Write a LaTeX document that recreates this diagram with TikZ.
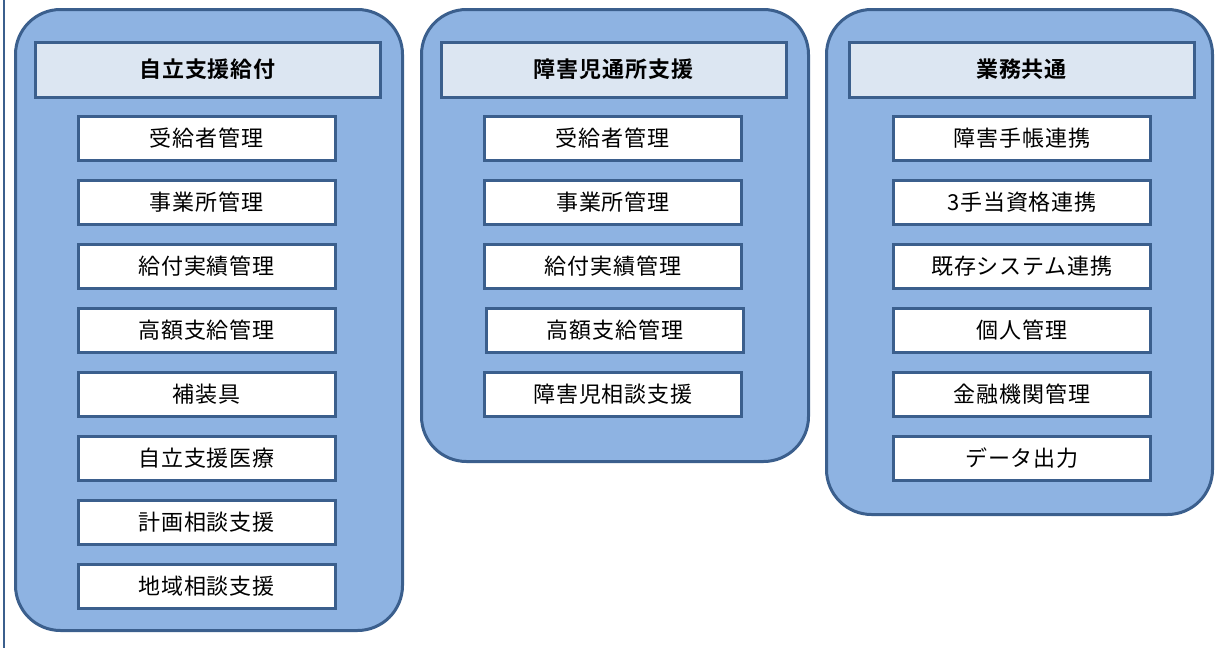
\documentclass[tikz,border=0pt]{standalone}
\usepackage{fontspec}
\newfontfamily\cjk{Noto Sans CJK JP}[BoldFont=Noto Sans CJK JP Bold, LetterSpace=4]
\definecolor{edge}{HTML}{3B5F8D}
\definecolor{panelfill}{HTML}{8EB3E2}
\definecolor{headfill}{HTML}{DCE6F2}
\tikzset{
  panel/.style={draw=edge, fill=panelfill, line width=3pt, rounded corners=45pt, anchor=north west, inner sep=0pt},
  headbox/.style={draw=edge, fill=headfill, line width=3pt, minimum width=345pt, minimum height=55pt, inner sep=0pt, font=\cjk\bfseries\fontsize{22}{25}\selectfont},
  itembox/.style={draw=edge, fill=white, line width=3pt, minimum width=257pt, minimum height=44pt, inner sep=0pt, font=\cjk\fontsize{22}{25}\selectfont},
}
\begin{document}
\begin{tikzpicture}[x=1pt,y=-1pt]
\useasboundingbox (0,0) rectangle (1219,648);
\coordinate (lt) at (4,0);
\coordinate (lb) at (4,648);
\draw[edge, line width=2pt] (lt) -- (lb);
% panels
\node[panel, minimum width=387pt, minimum height=621pt] (p1) at (14,8) {};
\node[panel, minimum width=387pt, minimum height=452pt] (p2) at (420,8) {};
\node[panel, minimum width=386pt, minimum height=505pt] (p3) at (825,8) {};
% headers
\node[headbox] (h1) at (207.5,69.5) {自立支援給付};
\node[headbox] (h2) at (613.5,69.5) {障害児通所支援};
\node[headbox] (h3) at (1021.5,69.5) {業務共通};
% panel 1 items
\node[itembox] (a1) at (206.5,138) {受給者管理};
\node[itembox] (a2) at (206.5,202) {事業所管理};
\node[itembox] (a3) at (206.5,266) {給付実績管理};
\node[itembox] (a4) at (206.5,330) {高額支給管理};
\node[itembox] (a5) at (206.5,394) {補装具};
\node[itembox] (a6) at (206.5,458) {自立支援医療};
\node[itembox] (a7) at (206.5,522) {計画相談支援};
\node[itembox] (a8) at (206.5,586) {地域相談支援};
% panel 2 items
\node[itembox] (b1) at (612.5,138) {受給者管理};
\node[itembox] (b2) at (613,202) {事業所管理};
\node[itembox] (b3) at (613,266) {給付実績管理};
\node[itembox] (b4) at (615,330) {高額支給管理};
\node[itembox] (b5) at (613,394) {障害児相談支援};
% panel 3 items
\node[itembox] (c1) at (1022,138) {障害手帳連携};
\node[itembox] (c2) at (1022,202) {3手当資格連携};
\node[itembox] (c3) at (1022,266) {既存システム連携};
\node[itembox] (c4) at (1022,330) {個人管理};
\node[itembox] (c5) at (1022,394) {金融機関管理};
\node[itembox] (c6) at (1022,458) {データ出力};
\end{tikzpicture}
\end{document}
